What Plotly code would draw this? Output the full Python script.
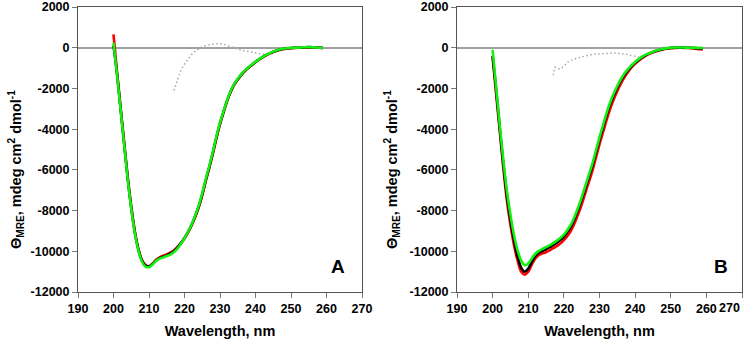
import plotly.graph_objects as go

# ---------------- data ----------------
wl = list(range(200, 260))

# Panel A
a_black = [100, -1300, -3000, -4700, -6400, -7850, -9050, -9900, -10450, -10700,
           -10750, -10620, -10450, -10340, -10270, -10200, -10120, -10000, -9820, -9600,
           -9350, -9050, -8700, -8280, -7800, -7200, -6500, -5850, -5150, -4400,
           -3720, -3150, -2600, -2150, -1800, -1550, -1320, -1130, -980, -840,
           -700, -570, -460, -360, -280, -200, -140, -90, -50, -30,
           -15, -5, 0, 10, 20, 30, 25, 10, 0, -10]
a_red = [650, -1200, -2950, -4650, -6350, -7800, -9000, -9880, -10420, -10680,
         -10740, -10600, -10420, -10300, -10220, -10150, -10070, -9960, -9800, -9600,
         -9370, -9080, -8730, -8320, -7840, -7250, -6550, -5900, -5200, -4450,
         -3760, -3180, -2630, -2180, -1820, -1570, -1340, -1150, -990, -850,
         -710, -580, -470, -370, -290, -210, -150, -100, -60, -40,
         -25, -15, -5, 5, 15, 25, 20, 5, -5, -15]
a_green = [250, -1350, -3050, -4750, -6450, -7900, -9100, -9950, -10500, -10750,
           -10780, -10650, -10470, -10360, -10300, -10230, -10160, -10050, -9870, -9630,
           -9360, -9040, -8680, -8250, -7760, -7150, -6450, -5800, -5100, -4350,
           -3680, -3120, -2580, -2130, -1780, -1530, -1300, -1110, -960, -820,
           -690, -560, -450, -350, -270, -190, -130, -80, -40, -20,
           -5, 0, 5, 15, 25, 35, 25, 10, 0, -5]

# Panel B
b_black = [-400, -2100, -3950, -5700, -7250, -8450, -9450, -10250, -10800, -11000,
           -10850, -10520, -10230, -10070, -9980, -9900, -9800, -9700, -9580, -9450,
           -9280, -9050, -8780, -8400, -7950, -7450, -6900, -6350, -5800, -5150,
           -4500, -3900, -3300, -2770, -2330, -1950, -1620, -1330, -1100, -900,
           -730, -590, -460, -360, -280, -210, -150, -100, -60, -30,
           -10, 0, 5, 5, 0, 0, -10, -20, -30, -40]
b_red = [-450, -2300, -4100, -5900, -7500, -8700, -9700, -10450, -11000, -11150,
         -11000, -10650, -10350, -10180, -10100, -10050, -9950, -9850, -9750, -9620,
         -9450, -9250, -8980, -8620, -8180, -7700, -7150, -6600, -6050, -5400,
         -4750, -4150, -3550, -3000, -2530, -2120, -1760, -1450, -1190, -970,
         -790, -640, -500, -390, -300, -230, -170, -120, -80, -50,
         -25, -10, -5, -5, -10, -15, -30, -50, -70, -80]
b_green = [-100, -1950, -3800, -5500, -7000, -8200, -9200, -9950, -10450, -10680,
           -10600, -10350, -10120, -9980, -9880, -9800, -9700, -9600, -9480, -9350,
           -9180, -8950, -8680, -8300, -7850, -7350, -6800, -6250, -5700, -5050,
           -4400, -3800, -3200, -2680, -2250, -1880, -1550, -1270, -1050, -860,
           -700, -560, -440, -340, -270, -200, -140, -90, -50, -20,
           0, 10, 10, 10, 5, 0, 0, 0, -10, -20]

# Dotted reference spectra
a_dot_wl = [217, 218, 219, 220, 221, 222, 223, 224, 225, 226, 227, 228, 229, 230,
            231, 232, 233, 234, 235, 236, 237, 238, 239, 240, 241, 242, 243]
a_dot = [-2100, -1550, -1100, -800, -550, -330, -170, -40, 50, 110, 150, 175, 190, 200,
         170, 110, 40, -20, -70, -120, -150, -190, -220, -260, -290, -310, -330]
b_dot_wl = [217, 217.5, 218, 219, 220, 221, 222, 223, 224, 225, 226, 227, 228, 229, 230,
            231, 232, 233, 234, 235, 236, 237, 238, 239, 240, 241, 242]
b_dot = [-1350, -950, -1000, -1050, -900, -720, -620, -550, -500, -450, -400, -360, -330, -310, -295,
         -280, -270, -260, -260, -265, -285, -310, -340, -390, -430, -470, -490]

x_ticks = [190, 200, 210, 220, 230, 240, 250, 260, 270]
x_ticklabels = [str(v) for v in x_ticks]
y_ticks = [2000, 0, -2000, -4000, -6000, -8000, -10000, -12000]
y_ticklabels = ["2000", "0", "-2000", "-4000", "-6000", "-8000", "-10000", "-12000"]
panel_labels = ["A", "B"]

# ---------------- figure ----------------
FONT = "Liberation Sans, Arial, sans-serif"
fig = go.Figure()

def add_panel(xa, ya, black, red, green, dwl, dvals):
    fig.add_trace(go.Scatter(x=dwl, y=dvals, mode="lines", xaxis=xa, yaxis=ya,
                             line=dict(color="#a8a8a8", width=1.5, dash="1.5px,2.5px"),
                             showlegend=False, hoverinfo="skip"))
    fig.add_trace(go.Scatter(x=wl, y=red, mode="lines", xaxis=xa, yaxis=ya,
                             line=dict(color="#ff0000", width=2.6, shape="spline"),
                             showlegend=False))
    fig.add_trace(go.Scatter(x=wl, y=black, mode="lines", xaxis=xa, yaxis=ya,
                             line=dict(color="#000000", width=2.6, shape="spline"),
                             showlegend=False))
    fig.add_trace(go.Scatter(x=wl, y=green, mode="lines", xaxis=xa, yaxis=ya,
                             line=dict(color="#11f011", width=2.6, shape="spline"),
                             showlegend=False))

add_panel("x", "y", a_black, a_red, a_green, a_dot_wl, a_dot)
add_panel("x2", "y2", b_black, b_red, b_green, b_dot_wl, b_dot)

W, H = 752, 345
T, B = 7, 53
plot_h = H - T - B
xdom1 = [78 / W, 362 / W]
xdom2 = [457 / W, 742 / W]

tickfont = dict(family=FONT, size=12.5, color="#000000", weight="bold")
axis_common = dict(
    showgrid=False, showline=True, linecolor="#555555", linewidth=1, mirror=True,
    ticks="outside", ticklen=5, tickcolor="#777777", tickwidth=1, automargin=False,
    tickfont=tickfont,
)

xtitle = dict(text="Wavelength, nm", standoff=10,
              font=dict(family=FONT, size=14.5, color="#000000", weight="bold"))
ycommon = dict(axis_common, range=[-12000, 2000], tickvals=y_ticks, ticktext=y_ticklabels,
               zeroline=True, zerolinecolor="#a0a0a0", zerolinewidth=2)

# right panel: last label sits at the window edge, so it is drawn right-aligned below
x2_ticktext = x_ticklabels[:-1] + [""]

fig.update_layout(
    width=W, height=H,
    margin=dict(l=0, r=0, t=T, b=B, pad=0),
    plot_bgcolor="white", paper_bgcolor="white",
    xaxis=dict(axis_common, range=[190, 270], tickvals=x_ticks, ticktext=x_ticklabels,
               title=xtitle, domain=xdom1, anchor="y"),
    yaxis=dict(ycommon, domain=[0, 1], anchor="x"),
    xaxis2=dict(axis_common, range=[190, 270], tickvals=x_ticks, ticktext=x2_ticktext,
                title=xtitle, domain=xdom2, anchor="y2"),
    yaxis2=dict(ycommon, domain=[0, 1], anchor="x2"),
)

fig.add_annotation(text=x_ticklabels[-1], xref="x2", yref="paper", x=x_ticks[-1], y=0,
                   yshift=-7, xanchor="right", yanchor="top", showarrow=False,
                   font=tickfont)

ytitle = "Θ<sub>MRE</sub>, mdeg cm<sup>2</sup> dmol<sup>-1</sup>"
for xc in [16 / W, 392 / W]:
    fig.add_annotation(text=ytitle, xref="paper", yref="paper", x=xc,
                       y=(H - B - 170) / plot_h,
                       showarrow=False, textangle=-90, xanchor="center", yanchor="middle",
                       font=dict(family=FONT, size=14.5, color="#000000", weight="bold"))

for lab, xr, yr, xx in [(panel_labels[0], "x domain", "y domain", 0.915),
                        (panel_labels[1], "x2 domain", "y2 domain", 0.926)]:
    fig.add_annotation(text=lab, xref=xr, yref=yr, x=xx, y=0.088, showarrow=False,
                       xanchor="center", yanchor="middle",
                       font=dict(family=FONT, size=19, color="#000000", weight="bold"))

# remove the browser's default 8px page margin so the figure fills the window
fig.write_html("out.html", config={"displayModeBar": False},
               post_script="document.body.style.margin='0';document.body.style.overflow='hidden';")
